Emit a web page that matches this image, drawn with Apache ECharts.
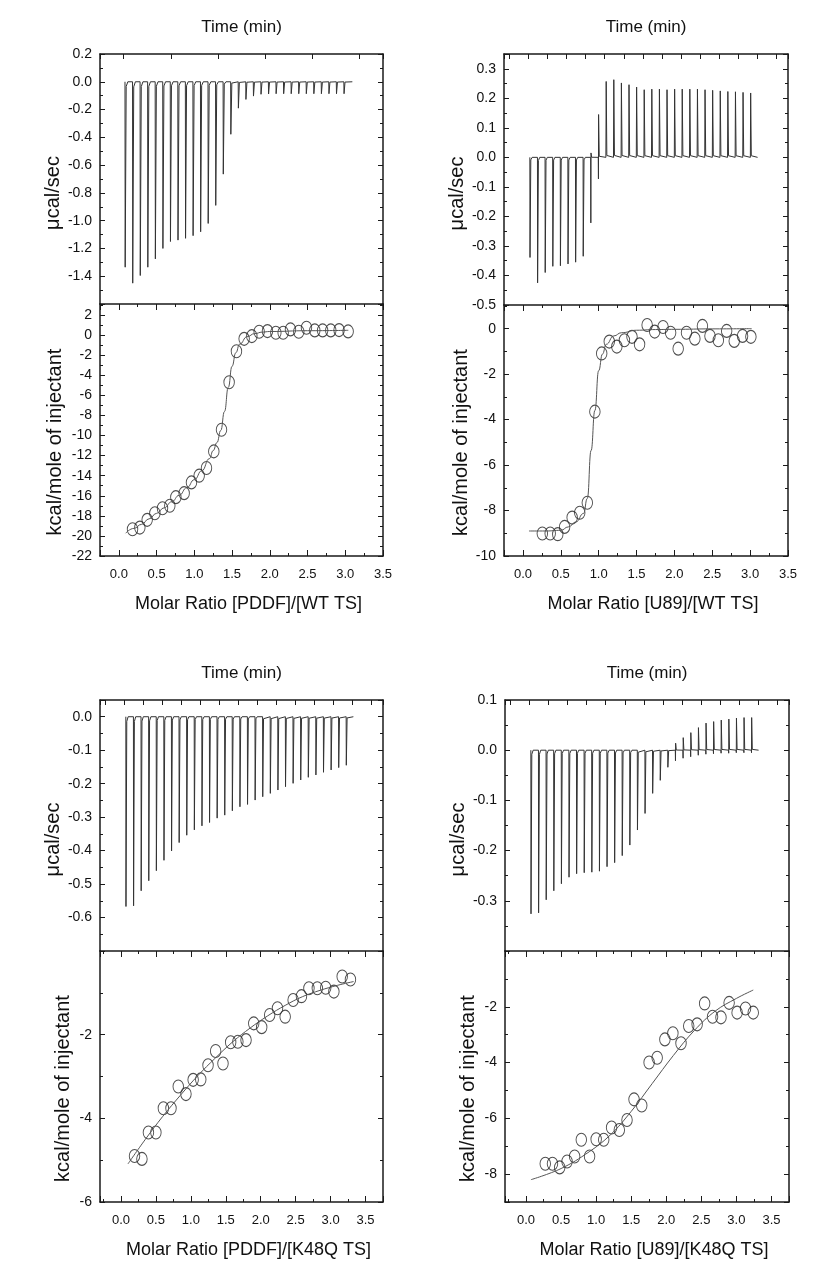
<!DOCTYPE html>
<html><head><meta charset="utf-8">
<script src="https://cdn.jsdelivr.net/npm/echarts@6/dist/echarts.min.js"></script>
<style>html,body{margin:0;padding:0;background:#fff}#c{width:820px;height:1275px}</style>
</head><body><div id="c"></div>
<script>
// ---------- DATA ----------
// injection times (min) for the raw thermograms
const injTimeA = [0.3,1.9,3.5,5.1,6.7,8.3,9.9,11.5,13.1,14.7,16.3,17.9,19.5,21.1,22.7,24.3,25.9,27.5,29.1,30.7,32.3,33.9,35.5,37.1,38.7,40.3,41.9,43.5,45.1,46.7];
const runEndA = 48.5;
const injTimeBCD = [0.3,2.3,4.3,6.3,8.3,10.3,12.3,14.3,16.3,18.3,20.3,22.3,24.3,26.3,28.3,30.3,32.3,34.3,36.3,38.3,40.3,42.3,44.3,46.3,48.3,50.3,52.3,54.3,56.3,58.3];
const runEndBCD = 60.2;

// Panel A: PDDF into WT TS
const aPeakNeg = [-1.335,-1.45,-1.395,-1.335,-1.275,-1.20,-1.15,-1.14,-1.127,-1.108,-1.08,-1.02,-0.89,-0.665,-0.378,-0.19,-0.127,-0.103,-0.09,-0.088,-0.086,-0.086,-0.086,-0.086,-0.086,-0.086,-0.086,-0.086,-0.086,-0.086];
const aRatio = [0.181,0.278,0.375,0.477,0.578,0.675,0.755,0.865,0.962,1.064,1.161,1.258,1.36,1.461,1.558,1.66,1.762,1.859,1.969,2.08,2.177,2.274,2.384,2.486,2.596,2.70,2.808,2.918,3.038];
const aHeat = [-19.33,-19.17,-18.4,-17.74,-17.24,-17.0,-16.14,-15.74,-14.67,-14.0,-13.24,-11.58,-9.42,-4.69,-1.6,-0.37,-0.1,0.33,0.4,0.23,0.23,0.57,0.33,0.73,0.47,0.47,0.47,0.5,0.37];
const aFitX = [0.09,0.2,0.3,0.4,0.5,0.6,0.7,0.8,0.9,1.0,1.1,1.2,1.25,1.3,1.35,1.4,1.45,1.5,1.55,1.6,1.7,1.8,1.9,2.0,2.5,3.04];
const aFitY = [-19.73,-19.25,-18.85,-18.3,-17.75,-17.2,-16.6,-15.95,-15.2,-14.4,-13.5,-12.3,-11.5,-10.7,-9.5,-7.6,-5.2,-3.1,-1.75,-0.9,-0.15,0.15,0.3,0.36,0.44,0.48];

// Panel B: U89 into WT TS
const bPeakNeg = [-0.339,-0.425,-0.39,-0.369,-0.367,-0.361,-0.355,-0.335,-0.222,-0.073,0,0,0,0,0,0,0,0,0,0,0,0,0,0,0,0,0,0,0,0];
const bPeakPos = [0,0,0,0,0,0,0,0,0.015,0.145,0.257,0.263,0.252,0.246,0.238,0.229,0.231,0.231,0.229,0.231,0.231,0.231,0.231,0.229,0.227,0.225,0.223,0.222,0.22,0.218];
const bRatio = [0.256,0.36,0.46,0.55,0.65,0.75,0.85,0.95,1.04,1.14,1.24,1.34,1.44,1.54,1.64,1.74,1.85,1.95,2.05,2.16,2.27,2.37,2.47,2.58,2.69,2.79,2.9,3.01];
const bHeat = [-9.01,-9.01,-9.04,-8.72,-8.31,-8.1,-7.66,-3.65,-1.09,-0.57,-0.79,-0.51,-0.36,-0.69,0.16,-0.13,0.07,-0.18,-0.88,-0.18,-0.44,0.12,-0.32,-0.51,-0.1,-0.54,-0.32,-0.36];
const bFitX = [0.08,0.3,0.5,0.6,0.7,0.8,0.85,0.9,0.95,1.0,1.05,1.1,1.2,1.3,1.5,1.75,2.0,2.5,3.02];
const bFitY = [-8.9,-8.9,-8.87,-8.72,-8.5,-8.13,-7.47,-5.36,-3.6,-1.85,-1.12,-0.69,-0.32,-0.18,-0.07,-0.04,-0.03,-0.01,0];

// Panel C: PDDF into K48Q TS
const cPeakNeg = [-0.567,-0.565,-0.52,-0.49,-0.46,-0.429,-0.401,-0.376,-0.354,-0.338,-0.326,-0.316,-0.303,-0.294,-0.281,-0.269,-0.262,-0.249,-0.239,-0.229,-0.219,-0.209,-0.199,-0.189,-0.181,-0.174,-0.166,-0.159,-0.152,-0.145];
const cRatio = [0.194,0.30,0.393,0.50,0.607,0.716,0.82,0.93,1.033,1.142,1.246,1.355,1.46,1.57,1.673,1.79,1.90,2.014,2.128,2.24,2.35,2.464,2.583,2.69,2.81,2.93,3.047,3.166,3.284];
const cHeat = [-4.90,-4.97,-4.34,-4.34,-3.76,-3.76,-3.24,-3.42,-3.08,-3.07,-2.73,-2.39,-2.69,-2.18,-2.17,-2.13,-1.73,-1.82,-1.53,-1.37,-1.57,-1.17,-1.08,-0.89,-0.89,-0.88,-0.97,-0.61,-0.68];
const cFitX = [0.1,0.35,0.6,0.85,1.1,1.35,1.6,1.85,2.1,2.35,2.6,2.85,3.1,3.33];
const cFitY = [-5.09,-4.5,-3.95,-3.45,-2.98,-2.56,-2.17,-1.84,-1.55,-1.3,-1.09,-0.94,-0.82,-0.73];

// Panel D: U89 into K48Q TS
const dPeakNeg = [-0.326,-0.324,-0.298,-0.28,-0.266,-0.253,-0.246,-0.244,-0.243,-0.241,-0.232,-0.224,-0.21,-0.189,-0.159,-0.126,-0.086,-0.06,-0.034,-0.021,-0.016,-0.013,-0.01,-0.008,-0.007,-0.006,-0.006,-0.005,-0.005,-0.005];
const dPeakPos = [0,0,0,0,0,0,0,0,0,0,0,0,0,0,0,0,0,0,0,0.014,0.025,0.035,0.045,0.054,0.057,0.06,0.062,0.064,0.065,0.065];
const dRatio = [0.274,0.377,0.48,0.585,0.693,0.788,0.906,1.0,1.108,1.22,1.33,1.44,1.54,1.65,1.755,1.87,1.98,2.094,2.21,2.32,2.44,2.547,2.66,2.78,2.896,3.01,3.13,3.24];
const dHeat = [-7.63,-7.63,-7.76,-7.55,-7.37,-6.77,-7.37,-6.75,-6.77,-6.33,-6.42,-6.06,-5.32,-5.54,-4.0,-3.83,-3.17,-2.95,-3.31,-2.69,-2.63,-1.88,-2.36,-2.38,-1.86,-2.21,-2.06,-2.21];
const dFitX = [0.07,0.5,0.9,1.2,1.5,1.8,2.1,2.4,2.7,3.0,3.24];
const dFitY = [-8.2,-7.8,-7.2,-6.6,-5.75,-4.75,-3.75,-2.85,-2.15,-1.7,-1.4];

// axis titles
const timeTitle = 'Time (min)';
const powerTitle = 'μcal/sec';
const heatTitle = 'kcal/mole of injectant';
const ratioTitles = ['Molar Ratio [PDDF]/[WT TS]','Molar Ratio [U89]/[WT TS]','Molar Ratio [PDDF]/[K48Q TS]','Molar Ratio [U89]/[K48Q TS]'];

// ---------- BUILD ----------
const FONT = '"Liberation Sans", Arial, Helvetica, sans-serif';
const INK = '#1a1a1a';

function zip(xs, ys){ return xs.map((x,i)=>[x, ys[i]]); }
// raw heat-flow trace: each injection drawn as a sharp spike returning to baseline
function spikeTrace(times, neg, pos, tEnd){
  const pts = [];
  times.forEach((t,i)=>{
    const n = neg ? neg[i] : 0, p = pos ? pos[i] : 0;
    pts.push([t, 0]);
    if (n < 0) pts.push([t + 0.04, n]);
    if (p > 0) pts.push([t + 0.08, p]);
    const last = p > 0 ? p : n;
    pts.push([t + 0.25, last * 0.025]);
    pts.push([t + 0.6, 0]);
  });
  pts.push([tEnd, 0]);
  return pts;
}
function fmt(step, dec, lo, hi){
  return v => {
    const k = v / step;
    if (Math.abs(k - Math.round(k)) > 1e-6) return '';
    if (v < lo - 1e-9 || v > hi + 1e-9) return '';
    return (Math.abs(v) < 1e-9 ? 0 : v).toFixed(dec);
  };
}

const panels = [
  { gT:{left:100,top:54,width:283,height:250}, gB:{left:100,top:304,width:283,height:252},
    time:{min:-5,max:55,split:6,inj:injTimeA,end:runEndA},
    tY:{min:-1.6,max:0.2,interval:0.2,dec:1,lo:-1.4,hi:0.2},
    bY:{min:-22,max:3.1,interval:2,dec:0,lo:-22,hi:2},
    bX:{min:-0.25,max:3.5,split:7}, mono:true,
    neg:aPeakNeg, pos:null, ratio:aRatio, heat:aHeat, fx:aFitX, fy:aFitY, tGap:33, bGap:35 },
  { gT:{left:504,top:54,width:284,height:251}, gB:{left:504,top:305,width:284,height:251},
    time:{min:-6.5,max:68.2,split:15,inj:injTimeBCD,end:runEndBCD},
    tY:{min:-0.5,max:0.35,interval:0.1,dec:1,lo:-0.5,hi:0.3},
    bY:{min:-10,max:1.04,interval:2,dec:0,lo:-10,hi:0},
    bX:{min:-0.25,max:3.5,split:7}, mono:true,
    neg:bPeakNeg, pos:bPeakPos, ratio:bRatio, heat:bHeat, fx:bFitX, fy:bFitY, tGap:36, bGap:32 },
  { gT:{left:100,top:700,width:283,height:251}, gB:{left:100,top:951,width:283,height:251},
    time:{min:-6.5,max:68,split:15,inj:injTimeBCD,end:runEndBCD},
    tY:{min:-0.7,max:0.05,interval:0.1,dec:1,lo:-0.6,hi:0},
    bY:{min:-6,max:0,interval:2,dec:0,lo:-6,hi:-2},
    bX:{min:-0.3,max:3.75,split:8}, mono:false,
    neg:cPeakNeg, pos:null, ratio:cRatio, heat:cHeat, fx:cFitX, fy:cFitY, tGap:33, bGap:27 },
  { gT:{left:505,top:700,width:284,height:251}, gB:{left:505,top:951,width:284,height:251},
    time:{min:-6.5,max:68.2,split:15,inj:injTimeBCD,end:runEndBCD},
    tY:{min:-0.4,max:0.1,interval:0.1,dec:1,lo:-0.3,hi:0.1},
    bY:{min:-9,max:0,split:5,dec:0,lo:-8,hi:-2},
    bX:{min:-0.3,max:3.75,split:8}, mono:false,
    neg:dPeakNeg, pos:dPeakPos, ratio:dRatio, heat:dHeat, fx:dFitX, fy:dFitY, tGap:37, bGap:27 }
];

const grid=[], xAxis=[], yAxis=[], series=[];
const axisLine = {show:true, onZero:false, lineStyle:{color:INK, width:1.5}};
const tick = {show:true, inside:true, length:5, lineStyle:{color:INK, width:1}};
const minor = {show:true, splitNumber:2, length:3, lineStyle:{color:INK, width:1}};
const labelBase = {color:'#111', fontSize:13, fontFamily:FONT};
const nameBase = {color:'#111', fontFamily:FONT};

function yAx(gi, cfg, pos, withLabel, name, gap, shift){
  const ax = {type:'value', gridIndex:gi, position:pos, min:cfg.min, max:cfg.max,
    axisLine, axisTick:tick, minorTick:minor, splitLine:{show:false}, minorSplitLine:{show:false},
    axisLabel: withLabel ? Object.assign({margin:8, formatter: fmt(cfg.interval||2, cfg.dec, cfg.lo, cfg.hi)}, labelBase, {fontSize:14}) : {show:false}};
  if (cfg.interval) ax.interval = cfg.interval; else ax.splitNumber = cfg.split;
  if (name){ ax.name = name; ax.nameLocation='middle'; ax.nameGap=gap;
    ax.nameTextStyle = Object.assign({fontSize:20, padding:[0, shift, 0, 0]}, nameBase); }
  return ax;
}

panels.forEach((p, idx)=>{
  const gT = grid.length; grid.push(Object.assign({outerBoundsMode:'none', containLabel:false}, p.gT));
  const gB = grid.length; grid.push(Object.assign({outerBoundsMode:'none', containLabel:false}, p.gB));

  // top plot: time axis on top
  const xT = xAxis.length;
  xAxis.push({type:'value', gridIndex:gT, position:'top', min:p.time.min, max:p.time.max, splitNumber:p.time.split,
    axisLine, axisTick:tick, axisLabel:{show:false}, splitLine:{show:false},
    name: timeTitle, nameLocation:'middle', nameGap:18, nameTextStyle:Object.assign({fontSize:17}, nameBase)});
  const yT = yAxis.length;
  yAxis.push(yAx(gT, p.tY, 'left', true, powerTitle, p.tGap, 28));
  yAxis.push(yAx(gT, p.tY, 'right', false));

  // bottom plot: molar ratio axis
  const xB = xAxis.length;
  xAxis.push({type:'value', gridIndex:gB, position:'bottom', min:p.bX.min, max:p.bX.max, splitNumber:p.bX.split,
    axisLine, axisTick:Object.assign({}, tick, {length:6}), minorTick:minor, splitLine:{show:false}, minorSplitLine:{show:false},
    axisLabel:Object.assign({margin:12, formatter: fmt(0.5, 1, 0, 3.5)}, labelBase),
    name: ratioTitles[idx], nameLocation:'middle', nameGap:39,
    nameTextStyle:Object.assign({fontSize:18, padding:[0, 0, 0, 14]}, nameBase)});
  xAxis.push({type:'value', gridIndex:gB, position:'top', min:p.bX.min, max:p.bX.max, splitNumber:p.bX.split,
    axisLine, axisTick:Object.assign({}, tick, {length:6}), minorTick:minor, splitLine:{show:false}, axisLabel:{show:false}});
  const yB = yAxis.length;
  yAxis.push(yAx(gB, p.bY, 'left', true, heatTitle, p.bGap, 24));
  yAxis.push(yAx(gB, p.bY, 'right', false));

  series.push({type:'line', xAxisIndex:xT, yAxisIndex:yT, data: spikeTrace(p.time.inj, p.neg, p.pos, p.time.end),
    showSymbol:false, symbol:'none', lineStyle:{color:'#333', width:1}, animation:false});
  const fit = {type:'line', xAxisIndex:xB, yAxisIndex:yB, data: zip(p.fx, p.fy), smooth: p.mono ? true : 0.4,
    showSymbol:false, symbol:'none', lineStyle:{color:'#555', width:1}, animation:false};
  if (p.mono) fit.smoothMonotone = 'x';
  series.push(fit);
  series.push({type:'scatter', xAxisIndex:xB, yAxisIndex:yB, data: zip(p.ratio, p.heat), symbol:'circle', symbolSize:[10.5,13],
    itemStyle:{color:'rgba(255,255,255,0)', borderColor:'#222', borderWidth:1}, animation:false});
});

const chart = echarts.init(document.getElementById('c'), null, {renderer:'canvas'});
chart.setOption({backgroundColor:'#fff', animation:false, grid, xAxis, yAxis, series});
</script></body></html>
